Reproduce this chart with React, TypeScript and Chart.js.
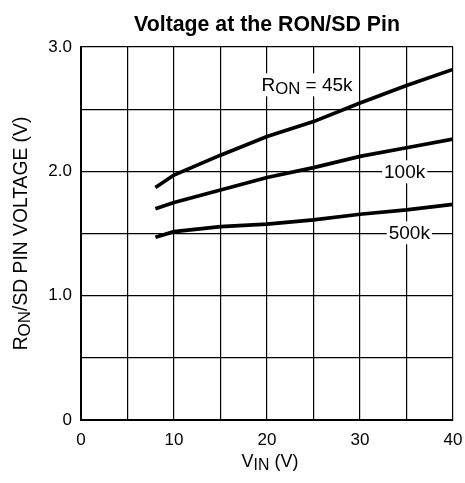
import React, { useEffect, useRef } from 'react';
import { Chart, registerables } from 'chart.js';

Chart.register(...registerables);

const FONT = '"Liberation Sans", Arial, Helvetica, sans-serif';

// Data
const vin = [8, 10, 15, 20, 25, 30, 35, 40];
const ron45k = [1.87, 1.97, 2.13, 2.28, 2.4, 2.55, 2.69, 2.82];
const ron100k = [1.7, 1.75, 1.85, 1.95, 2.03, 2.12, 2.19, 2.26];
const ron500k = [1.47, 1.515, 1.555, 1.576, 1.61, 1.655, 1.69, 1.735];

const seriesNames = ['RON = 45k', '100k', '500k'];
const xTickLabels = ['0', '10', '20', '30', '40'];
const yTickLabels = ['0', '1.0', '2.0', '3.0'];

type Part = { t: string; sub?: boolean };

const titleParts: Part[] = [{ t: 'Voltage at the RON/SD Pin' }];
const xTitleParts: Part[] = [{ t: 'V' }, { t: 'IN', sub: true }, { t: ' (V)' }];
const yTitleParts: Part[] = [{ t: 'R' }, { t: 'ON', sub: true }, { t: '/SD PIN VOLTAGE (V)' }];

// Curve label anchors (data coordinates) and their rich-text parts
const curveLabels: { parts: Part[]; x: number; y: number }[] = [
  { parts: [{ t: 'R' }, { t: 'ON', sub: true }, { t: ' = 45k' }], x: 24.3, y: 2.7 },
  { parts: [{ t: '100k' }], x: 34.8, y: 2.0 },
  { parts: [{ t: '500k' }], x: 35.3, y: 1.51 },
];

function measureParts(ctx: CanvasRenderingContext2D, parts: Part[], size: number, bold = false) {
  let w = 0;
  for (const p of parts) {
    const s = p.sub ? size * 0.88 : size;
    ctx.font = `${bold ? 'bold ' : ''}${s}px ${FONT}`;
    w += ctx.measureText(p.t).width;
  }
  return w;
}

function drawParts(ctx: CanvasRenderingContext2D, parts: Part[], x: number, y: number, size: number, bold = false) {
  let cx = x;
  ctx.textAlign = 'left';
  ctx.textBaseline = 'alphabetic';
  for (const p of parts) {
    const s = p.sub ? size * 0.88 : size;
    ctx.font = `${bold ? 'bold ' : ''}${s}px ${FONT}`;
    ctx.fillText(p.t, cx, y + (p.sub ? 3 : 0));
    cx += ctx.measureText(p.t).width;
  }
}

const textPlugin = {
  id: 'customTexts',
  afterDraw(chart: any) {
    const { ctx, chartArea, scales } = chart;
    const xs = scales.x;
    const ys = scales.y;
    const cxMid = (chartArea.left + chartArea.right) / 2;
    const cyMid = (chartArea.top + chartArea.bottom) / 2;
    ctx.save();
    ctx.fillStyle = '#000';

    // Title
    const tw = measureParts(ctx, titleParts, 21.3, true);
    drawParts(ctx, titleParts, cxMid - tw / 2, 31, 21.3, true);

    // X axis title
    const xw = measureParts(ctx, xTitleParts, 18);
    drawParts(ctx, xTitleParts, cxMid + 3 - xw / 2, 467, 18);

    // Y axis title (rotated)
    ctx.save();
    ctx.translate(27, cyMid);
    ctx.rotate(-Math.PI / 2);
    const yw = measureParts(ctx, yTitleParts, 19.3);
    drawParts(ctx, yTitleParts, -yw / 2, 0, 19.3);
    ctx.restore();

    // Curve labels with white background
    const size = 19;
    for (const lab of curveLabels) {
      const px = xs.getPixelForValue(lab.x);
      const py = ys.getPixelForValue(lab.y);
      const w = measureParts(ctx, lab.parts, size);
      ctx.fillStyle = '#fff';
      ctx.fillRect(px - w / 2 - 2, py - 11, w + 4, 23);
      ctx.fillStyle = '#000';
      drawParts(ctx, lab.parts, px - w / 2, py + 7, size);
    }
    ctx.restore();
  },
};

export default function App() {
  const ref = useRef<HTMLCanvasElement>(null);

  useEffect(() => {
    if (!ref.current) return;
    const mk = (vals: number[]) => vin.map((x, i) => ({ x, y: vals[i] }));
    const lineStyle = {
      borderColor: '#000',
      borderWidth: 3.7,
      pointRadius: 0,
      fill: false,
      tension: 0,
    };
    const chart = new Chart(ref.current, {
      type: 'line',
      data: {
        datasets: [
          { label: seriesNames[0], data: mk(ron45k), ...lineStyle },
          { label: seriesNames[1], data: mk(ron100k), ...lineStyle },
          { label: seriesNames[2], data: mk(ron500k), ...lineStyle },
        ],
      },
      options: {
        animation: false,
        responsive: false,
        layout: { padding: { top: 47, right: 12, left: 0, bottom: 0 } },
        plugins: {
          legend: { display: false },
          title: { display: false },
          tooltip: { enabled: false },
        },
        scales: {
          x: {
            type: 'linear',
            min: 0,
            max: 40,
            afterFit: (s: any) => {
              s.height = 63;
              s.paddingLeft = 0;
              s.paddingRight = 0;
            },
            ticks: {
              stepSize: 5,
              autoSkip: false,
              maxRotation: 0,
              padding: 10,
              color: '#000',
              font: { family: FONT, size: 17 },
              callback: (v: any) => {
                const n = Number(v);
                return n % 10 === 0 ? xTickLabels[n / 10] : '';
              },
            },
            grid: { color: '#000', lineWidth: 1.2, drawTicks: false },
            border: { color: '#000', width: 2 },
          },
          y: {
            type: 'linear',
            min: 0,
            max: 3,
            afterFit: (s: any) => {
              s.width = 81;
            },
            ticks: {
              stepSize: 0.5,
              autoSkip: false,
              padding: 9,
              color: '#000',
              font: { family: FONT, size: 17 },
              callback: (v: any) => {
                const n = Number(v);
                return Math.abs(n - Math.round(n)) < 1e-6 ? yTickLabels[Math.round(n)] : '';
              },
            },
            grid: { color: '#000', lineWidth: 1.2, drawTicks: false },
            border: { color: '#000', width: 2 },
          },
        },
      },
      plugins: [textPlugin],
    });
    return () => chart.destroy();
  }, []);

  return (
    <div style={{ position: 'fixed', left: 0, top: 0, width: 465, height: 483, background: '#fff' }}>
      <canvas ref={ref} width={465} height={483} style={{ width: 465, height: 483 }} />
    </div>
  );
}
